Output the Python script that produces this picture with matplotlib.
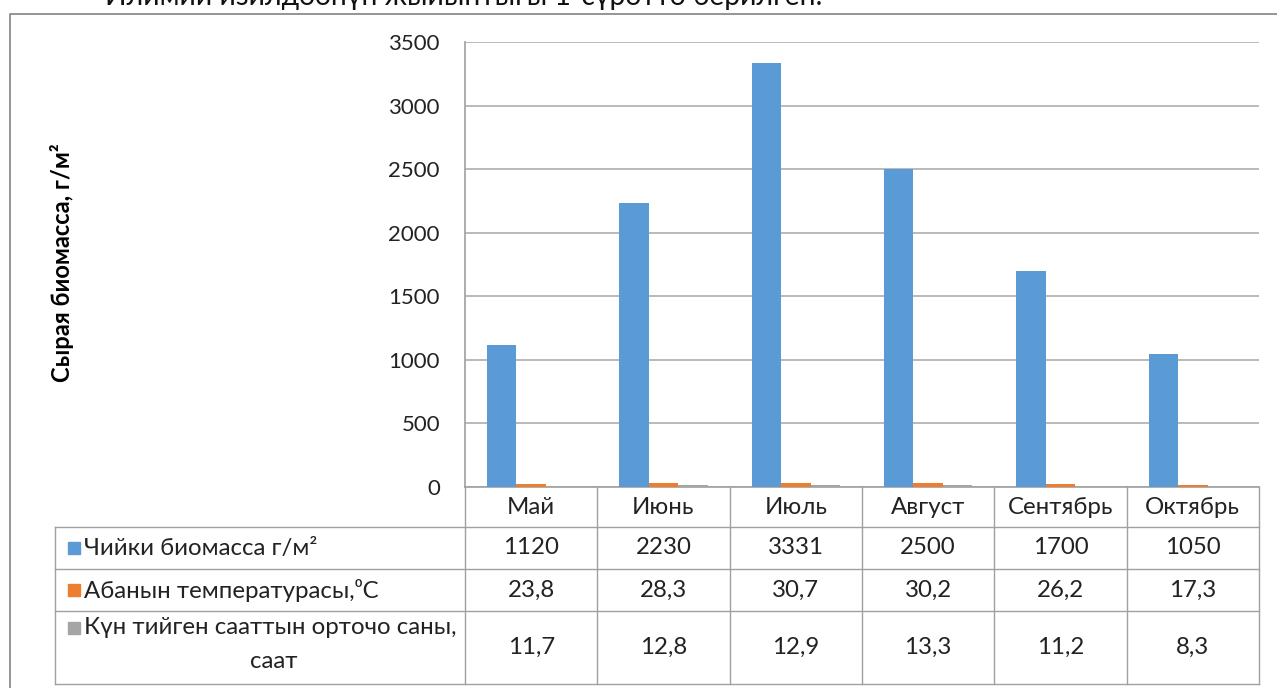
import matplotlib
matplotlib.use("Agg")
import matplotlib.pyplot as plt
import numpy as np
from matplotlib.patches import Rectangle
from matplotlib.lines import Line2D
from matplotlib.transforms import blended_transform_factory

plt.rcParams['font.family'] = ['Lato', 'Open Sans', 'DejaVu Sans']

months = ["Май", "Июнь", "Июль", "Август", "Сентябрь", "Октябрь"]
biomass = [1120, 2230, 3331, 2500, 1700, 1050]
air_temp = [23.8, 28.3, 30.7, 30.2, 26.2, 17.3]
sun_hours = [11.7, 12.8, 12.9, 13.3, 11.2, 8.3]
series_names = ["Чийки биомасса г/м²", "Абанын температурасы,⁰С",
                "Күн тийген сааттын орточо саны,"]
series_colors = ["#5B9BD5", "#ED7D31", "#A5A5A5"]
y_ticks = [0, 500, 1000, 1500, 2000, 2500, 3000, 3500]

W, H = 1277, 688
fig = plt.figure(figsize=(W / 100, H / 100), dpi=100)

# page text above the chart frame (cut by the page edge)
fig.text(105 / W, 1 - 5 / H, "Илимий изилдөөнүн жыйынтыгы 1-сүрөттө берилген.",
         fontsize=20.3, va='baseline', ha='left', color='#111111')

# chart frame
frame_c = '#8C8C8C'
fig.add_artist(Line2D([10 / W, 10 / W, 1], [0, 1 - 14 / H, 1 - 14 / H],
                      transform=fig.transFigure, color=frame_c, lw=1.3))

ax = fig.add_axes([465 / W, 1 - 487 / H, 794 / W, 445 / H])
x = np.arange(len(months))
w = 1 / 4.5
for k, vals in enumerate([biomass, air_temp, sun_hours]):
    ax.bar(x + (k - 1) * w, vals, w, color=series_colors[k], zorder=3)

ax.set_xlim(-0.5, len(months) - 0.5)
ax.set_ylim(0, 3500)
ax.set_yticks(y_ticks)
ax.set_xticks([])
ax.yaxis.grid(True, color='#B4B4B4', lw=1.3)
ax.set_axisbelow(True)
for s in ['top', 'right']:
    ax.spines[s].set_visible(False)
for s in ['left', 'bottom']:
    ax.spines[s].set_color('#A0A0A0')
    ax.spines[s].set_linewidth(1.2)
ax.tick_params(axis='y', length=0, pad=18, labelsize=16, labelcolor='#222222')

fig.text(62 / W, 1 - 263 / H, "Сырая биомасса, г/м²", rotation=90,
         fontweight='bold', fontsize=17, ha='center', va='center')

# data table under the axis
line_c = '#A0A0A0'
row_px = [487, 527, 569, 611, 684]
row_y = [(487 - p) / 445 for p in row_px]
xtr = ax.get_xaxis_transform()
ftr = blended_transform_factory(fig.transFigure, ax.transAxes)
left_f, right_f = 55 / W, 1259 / W

for b in np.arange(len(months) + 1) - 0.5:
    ax.add_line(Line2D([b, b], [row_y[0], row_y[-1]], transform=xtr,
                       color=line_c, lw=1, clip_on=False))
ax.add_line(Line2D([left_f, left_f], [row_y[1], row_y[-1]], transform=ftr,
                   color=line_c, lw=1, clip_on=False))
for yy in row_y[1:]:
    ax.add_line(Line2D([left_f, right_f], [yy, yy], transform=ftr,
                       color=line_c, lw=1, clip_on=False))

def fmt(v):
    return f"{v:.1f}".replace('.', ',') if isinstance(v, float) else str(v)

fs = 17.3
txt_kw = dict(fontsize=fs, ha='center', va='center', color='#222222', clip_on=False)
mid = [(row_y[i] + row_y[i + 1]) / 2 for i in range(4)]
for i, m in enumerate(months):
    ax.text(i, mid[0], m, transform=xtr, **txt_kw)
    for r, vals in enumerate([biomass, air_temp, sun_hours]):
        ax.text(i, mid[r + 1], fmt(vals[i]), transform=xtr, **txt_kw)

sq = 12
for r in range(3):
    yc = mid[r + 1] if r < 2 else (487 - 628) / 445
    ax.add_patch(Rectangle((68 / W, yc - sq / 2 / 445), sq / W, sq / 445,
                           transform=ftr, color=series_colors[r], clip_on=False))
    ax.text(84 / W, yc, series_names[r], transform=ftr, fontsize=fs,
            ha='left', va='center', color='#222222')
ax.text(274 / W, (487 - 662) / 445, "саат", transform=ftr, fontsize=fs,
        ha='center', va='center', color='#222222')

fig.savefig("out.png", dpi=100)
